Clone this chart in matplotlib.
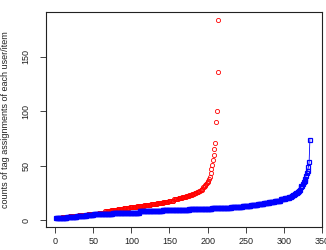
import numpy as np
import matplotlib
matplotlib.use("Agg")
import matplotlib.pyplot as plt

plt.rcParams['font.family'] = ['Liberation Sans', 'DejaVu Sans']

# sorted counts, stored as value / how many times it repeats
red_values = [2, 3, 4, 5, 6, 7, 8, 9, 10, 11, 12, 13, 14, 15, 16, 17, 18, 19, 20,
              21, 22, 23, 24, 25, 26, 27, 28, 29, 30, 31, 32, 33, 34, 35, 36, 38,
              40, 43, 47, 51, 55, 60, 65, 71, 90, 100, 136, 184]
red_counts = [8, 10, 12, 12, 14, 9, 8, 8, 8, 8, 10, 9, 9, 8, 8, 7, 7, 6, 5,
              5, 4, 4, 3, 3, 3, 2, 2, 1, 2, 1, 1, 1, 1, 1, 1, 1,
              1, 1, 1, 1, 1, 1, 1, 1, 1, 1, 1, 1]

blue_values = [2, 3, 4, 5, 6, 7, 8, 9, 10, 11, 12, 13, 14, 15, 16, 17, 18, 19, 20,
               21, 22, 23, 24, 25, 26, 27, 28, 30, 31, 33, 35, 36, 38, 41, 43, 45,
               49, 53, 74]
blue_counts = [15, 13, 12, 10, 25, 35, 30, 35, 30, 25, 15, 11, 9, 8, 7, 7, 8, 6, 5,
               3, 2, 2, 2, 2, 2, 1, 1, 1, 2, 1, 1, 1, 1, 1, 1, 1,
               1, 1, 1]

red = np.repeat(red_values, red_counts)
blue = np.repeat(blue_values, blue_counts)

fig = plt.figure(figsize=(3.26, 2.5), dpi=100)
ax = fig.add_axes([0.140, 0.092, 0.848, 0.859])

ax.plot(np.arange(1, len(red) + 1), red, 'o', color='red', mfc='none',
        ms=3.0, mew=0.6)
ax.plot(np.arange(1, len(blue) + 1), blue, '-s', color='blue', mfc='none',
        ms=3.0, mew=0.9, lw=0.6)

ax.set_xlim(-12.3, 347.3)
ax.set_ylim(-6.3, 191)
ax.set_xticks([0, 50, 100, 150, 200, 250, 300, 350])
ax.set_yticks([0, 50, 100, 150])
for lab in ax.get_yticklabels():
    lab.set_rotation(90)
    lab.set_va('center')
ax.tick_params(labelsize=6.5, length=4, width=0.6, colors='#222222')
ax.tick_params(axis='x', pad=3)
ax.tick_params(axis='y', pad=7)
ax.set_ylabel("counts of tag assignments of each user/item", fontsize=6.5,
              color='#222222', labelpad=8)
for s in ax.spines.values():
    s.set_linewidth(0.8)
    s.set_color('#222222')

fig.savefig("out.png", dpi=100)
